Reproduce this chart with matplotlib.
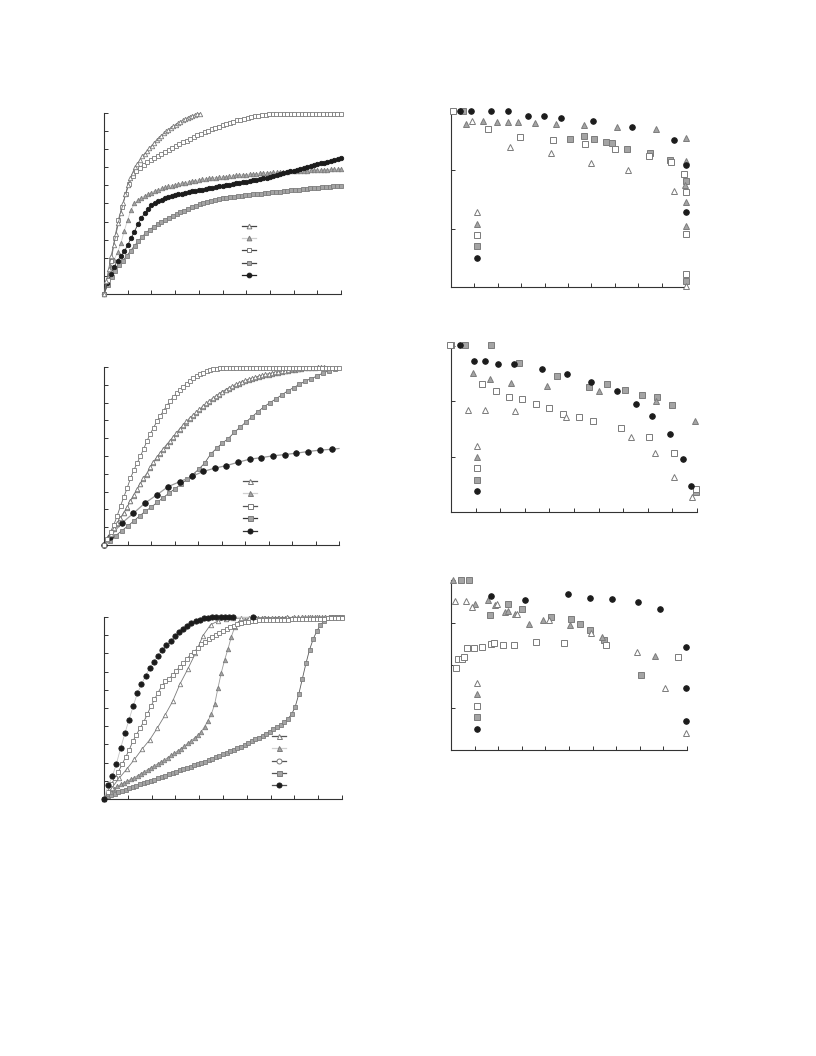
import numpy as np
import matplotlib
matplotlib.use("Agg")
import matplotlib.pyplot as plt
from matplotlib.lines import Line2D

# ---------------------------------------------------------------------------
# Cumulative curves (left column), x and y on 0-100 scales
# ---------------------------------------------------------------------------
# Panel A
a_tri_open_end = 40.3
a_tri_open = [0, 7, 14, 21, 27, 33, 39, 45, 50, 55, 60, 64, 67, 70, 72, 74, 76, 77.5,
              79, 80.5, 82, 83.5, 85, 86.3, 87.5, 88.7, 89.8, 90.8, 91.8, 92.7, 93.6,
              94.4, 95.2, 96, 96.7, 97.4, 98, 98.5, 99, 99.4, 99.7]
a_sq_open = [0, 8, 18, 31, 41, 48, 55, 61, 65, 67.8, 69.8, 71.4, 72.8, 74.1, 75.3, 76.5,
             77.6, 78.7, 79.8, 80.8, 81.8, 82.8, 83.8, 84.8, 85.8, 86.7, 87.6, 88.5,
             89.3, 90.1, 90.9, 91.7, 92.5, 93.3, 94.0, 94.7, 95.3, 95.9, 96.4, 96.9,
             97.4, 97.8, 98.2, 98.5, 98.8, 99.1, 99.3, 99.4, 99.5, 99.5, 99.5, 99.5,
             99.5, 99.5, 99.5, 99.5, 99.5, 99.5, 99.5, 99.5, 99.5, 99.5, 99.5, 99.5,
             99.5, 99.5, 99.5]
a_tri_gray = [0, 8, 15, 19, 23, 28, 35, 41, 46.5, 50, 52, 53.2, 54.2, 55.1, 56, 57,
              57.7, 58.3, 58.9, 59.4, 59.9, 60.4, 60.8, 61.2, 61.6, 62, 62.4, 62.7, 63,
              63.3, 63.6, 63.9, 64.1, 64.3, 64.5, 64.7, 64.9, 65.1, 65.3, 65.5, 65.7,
              65.9, 66, 66.2, 66.4, 66.5, 66.7, 66.8, 67, 67.1, 67.2, 67.3, 67.4, 67.5,
              67.6, 67.7, 67.8, 67.9, 68, 68.1, 68.2, 68.3, 68.4, 68.5, 68.5, 68.6,
              68.7, 68.8, 68.9, 68.9, 69]
a_circ = [0, 6, 11, 15, 18.5, 21, 23.5, 27, 31, 34.5, 38.5, 42, 44.5, 47, 49, 50.3, 51.3,
          52.1, 52.8, 53.4, 54, 54.5, 55, 55.5, 55.9, 56.3, 56.7, 57, 57.4, 57.7, 58.1,
          58.4, 58.8, 59.1, 59.4, 59.7, 60.1, 60.4, 60.7, 61.1, 61.4, 61.8, 62.1, 62.4,
          62.8, 63.1, 63.5, 63.9, 64.3, 64.8, 65.2, 65.7, 66.2, 66.7, 67.2, 67.7, 68.2,
          68.7, 69.2, 69.7, 70.2, 70.7, 71.2, 71.6, 72.1, 72.5, 73, 73.5, 74, 74.5, 75]
a_sq_gray = [0, 5, 9.5, 12.8, 15.8, 18.5, 21.2, 24, 26.7, 29.3, 31.7, 33.8, 35.6, 37.1,
             38.4, 39.6, 40.8, 42, 43.1, 44.1, 45.1, 46.1, 47, 47.9, 48.7, 49.5, 50.1,
             50.7, 51.3, 51.8, 52.3, 52.8, 53.1, 53.4, 53.7, 54, 54.3, 54.6, 54.8, 55,
             55.2, 55.4, 55.6, 55.8, 56.1, 56.3, 56.5, 56.8, 57, 57.3, 57.5, 57.7, 57.9,
             58.1, 58.3, 58.5, 58.7, 58.9, 59.1, 59.3, 59.5, 59.7, 59.9]

# Panel B
b_sq_open = [0, 3.5, 7.5, 11.5, 16.5, 22, 27, 32, 37.5, 42, 46, 50, 54, 58.5, 62.5, 66,
             69.5, 72.5, 75.5, 78.3, 81, 83.3, 85.3, 87.2, 89, 90.7, 92.2, 93.6, 94.8,
             95.8, 96.7, 97.5, 98.2, 98.7, 99.1, 99.4, 99.5, 99.5, 99.5, 99.6, 99.6,
             99.6, 99.6, 99.6, 99.6, 99.6, 99.6, 99.6, 99.6, 99.6, 99.6, 99.6, 99.6,
             99.6, 99.6, 99.6, 99.6, 99.6, 99.6, 99.6, 99.6, 99.6, 99.6, 99.6, 99.6,
             99.6, 99.6, 99.6, 99.6, 99.6, 99.6, 99.6]
b_tri_open_end = 93.8
b_tri_open = [0, 3, 6.2, 9.3, 12.2, 15.2, 18.2, 21.2, 24.8, 28.1, 31.2, 34.5, 37.7, 40.1,
              43.8, 46.6, 49.2, 51.6, 54, 56.3, 58.5, 60.8, 63, 65.2, 67.3, 69.4, 71.2,
              72.9, 74.5, 76.2, 77.9, 79.5, 81, 82.4, 83.7, 85, 86.2, 87.3, 88.3, 89.3,
              90.2, 91, 91.8, 92.5, 93.1, 93.7, 94.3, 94.8, 95.3, 95.8, 96.2, 96.6, 97,
              97.4, 97.7, 98, 98.3, 98.6, 98.8, 99, 99.2, 99.4, 99.5, 99.6, 99.7, 99.8,
              99.9, 100]
b_tri_gray_end = 84.0
b_tri_gray = [0, 2.8, 6, 9, 12, 15, 18, 21, 24.5, 27.8, 31, 34.2, 37.3, 39.6, 43.2, 46,
              48.6, 51, 53.4, 55.7, 57.9, 60.2, 62.4, 64.6, 66.7, 68.8, 70.6, 72.3, 74,
              75.7, 77.4, 79, 80.5, 81.9, 83.2, 84.5, 85.7, 86.8, 87.8, 88.8, 89.7, 90.5,
              91.3, 92, 92.6, 93.2, 93.8, 94.3, 94.8, 95.3, 95.7, 96.1, 96.5, 96.9, 97.3,
              97.6, 97.9, 98.2, 98.5, 98.8, 99]
b_sq_gray_end = 98.28
b_sq_gray = [0, 2.5, 5.3, 8, 10.6, 13.4, 16.3, 19, 21.3, 24, 26.6, 29.2, 31.6, 34.2, 36.9,
             39.6, 42.6, 46, 51, 54.3, 57.3, 59.8, 63.3, 66.2, 69.2, 72, 74.9, 77.6,
             79.9, 82, 84.3, 86.5, 88.4, 90.2, 92.1, 93.5, 94.9, 96.7, 97.9, 98.7]
b_circ_x = [0, 2.5, 7.5, 12.5, 17.4, 22.4, 27.3, 32.3, 37.3, 42.2, 47.2, 52.1, 57.1, 62,
            67, 71.9, 76.9, 81.8, 86.8, 91.8, 97.2, 100]
b_circ = [0, 4.7, 12.2, 17.8, 23.5, 28.1, 32.8, 35.6, 38.5, 41.3, 43.2, 44.6, 46.5, 48.2,
          49.1, 50.1, 50.8, 51.6, 52.5, 53.3, 53.8, 54.2]

# Panel C
c_circ_x = [0, 1.75, 3.5, 5.25, 7.0, 8.75, 10.5, 12.25, 14.0, 15.75, 17.5, 19.25, 21.0,
            22.75, 24.5, 26.25, 28.0, 29.75, 31.5, 33.25, 35.0, 36.75, 38.5, 40.25,
            42.0, 43.75, 45.5, 47.25, 49.0, 50.75, 52.5, 54.25, 62.4]
c_circ = [0, 7.5, 12.5, 19.5, 28, 36, 43.5, 51, 58, 63, 67.8, 72, 75.5, 78.8, 82, 84.5,
          87, 89.5, 91.8, 93.4, 95, 96.5, 97.6, 98.6, 99.3, 99.7, 99.8, 99.8, 99.9,
          99.9, 99.9, 99.9, 99.9]
c_sq_open = [0, 4, 8, 11.5, 15, 19, 23, 27, 31.8, 35.3, 39, 42.3, 46.5, 51, 54.7, 58.5,
             62, 64.6, 66, 68, 70.3, 72.6, 74.5, 77, 79.3, 81, 82.8, 85.1, 86.4, 87.8,
             89.1, 90.3, 91.3, 92.3, 93.4, 94.4, 95.3, 96.1, 96.7, 97.1, 97.5, 97.8,
             98, 98.1, 98.2, 98.3, 98.4, 98.4, 98.5, 98.5, 98.6, 98.6, 98.7, 98.7,
             98.8, 98.8, 98.9, 98.9, 99, 99, 99.1, 99.1, 99.2, 99.2, 99.3, 99.3, 99.4]
c_tri_open_end = 99.2
c_tri_open = [0, 6, 11.5, 16.5, 21.8, 27.4, 32.5, 39, 46, 53.6, 63.4, 71.4, 80, 89.8,
              95.8, 97.8, 98.7, 99.2, 99.4, 99.5, 99.6, 99.6, 99.7, 99.7, 99.8, 99.8,
              99.8, 99.8, 99.9, 99.9, 99.9, 99.9]
c_tri_gray = [0, 2.5, 4, 5.5, 6.9, 8, 9, 9.9, 10.8, 11.7, 12.8, 13.9, 15, 16.1, 17.2,
              18.3, 19.3, 20.4, 21.5, 22.7, 24, 25.2, 26.4, 27.7, 29.2, 30.6, 32, 33.5,
              35, 37, 39.8, 43, 46.5, 52, 61, 69.5, 76.5, 82.5, 89.2, 94.5, 96.8, 97.8,
              98.4, 98.8, 99.1, 99.3, 99.4, 99.5, 99.5, 99.6, 99.6, 99.6, 99.6, 99.7,
              99.7, 99.7, 99.7, 99.7, 99.8, 99.8, 99.8, 99.8, 99.8, 99.8, 99.8, 99.8,
              99.9, 99.9, 99.9, 99.9, 99.9, 99.9]
c_sq_gray = [0, 1.5, 2.3, 3, 3.7, 4.4, 5.2, 5.9, 6.7, 7.3, 8, 8.6, 9.3, 10, 10.7, 11.4,
             12.1, 12.9, 13.6, 14.3, 15, 15.7, 16.4, 17.1, 17.8, 18.5, 19.2, 19.9, 20.6,
             21.3, 22.1, 22.9, 23.7, 24.5, 25.3, 26.1, 27, 27.9, 28.8, 29.7, 30.7, 31.7,
             32.7, 33.7, 34.8, 35.9, 37, 38.2, 39.4, 40.7, 42.2, 44, 46.5, 50.5, 57.5,
             66, 74.5, 82, 87.8, 92.2, 95.5, 97.8, 99.2, 99.8, 100, 100.1, 100]

# ---------------------------------------------------------------------------
# Ratio scatter panels (right column)
# ---------------------------------------------------------------------------
d_tri_open_x = [9.1, 25.2, 42.6, 59.7, 75.8, 95.4, 100.4]
d_tri_open_y = [2.85, 2.40, 2.30, 2.12, 2.00, 1.65, 0.02]
d_tri_gray_x = [6.4, 13.8, 19.5, 24.5, 28.8, 35.9, 44.9, 56.8, 70.8, 87.5, 100.4, 100.4,
                100.0, 100.4, 100.4]
d_tri_gray_y = [2.79, 2.85, 2.82, 2.82, 2.82, 2.81, 2.79, 2.77, 2.74, 2.70, 2.56, 2.16,
                1.75, 1.45, 1.05]
d_sq_open_x = [0.7, 16.0, 29.5, 43.4, 57.3, 70.1, 84.6, 94.0, 99.7, 100.3, 100.3, 100.3]
d_sq_open_y = [3.02, 2.70, 2.57, 2.52, 2.45, 2.36, 2.25, 2.14, 1.94, 1.63, 0.90, 0.23]
d_sq_gray_x = [5.0, 50.9, 56.8, 61.1, 66.1, 68.9, 75.4, 85.0, 93.6, 100.3, 100.3]
d_sq_gray_y = [3.02, 2.53, 2.58, 2.54, 2.48, 2.46, 2.37, 2.29, 2.17, 1.82, 0.11]
d_circ_x = [3.8, 8.4, 17.0, 24.5, 33.0, 39.9, 46.9, 60.8, 77.5, 95.4, 100.3, 100.3]
d_circ_y = [3.02, 3.02, 3.02, 3.02, 2.93, 2.93, 2.90, 2.85, 2.75, 2.52, 2.09, 1.29]

e_sq_open_x = [-0.3, 12.6, 18.2, 23.6, 28.8, 34.5, 40.0, 45.4, 52.0, 57.6, 69.1, 80.5,
               90.5, 99.7]
e_sq_open_y = [3.02, 2.31, 2.19, 2.07, 2.04, 1.96, 1.88, 1.77, 1.72, 1.65, 1.51, 1.35,
               1.07, 0.41]
e_tri_open_x = [6.9, 13.9, 26.2, 46.8, 73.0, 82.8, 90.8, 98.0]
e_tri_open_y = [1.85, 1.85, 1.82, 1.72, 1.35, 1.07, 0.63, 0.27]
e_tri_gray_x = [8.8, 15.7, 24.5, 38.9, 60.3, 83.5, 99.1]
e_tri_gray_y = [2.52, 2.41, 2.34, 2.28, 2.19, 2.00, 1.65]
e_sq_gray_x = [0.0, 5.8, 16.2, 27.7, 43.2, 56.1, 63.6, 70.9, 77.8, 83.8, 90.0, 99.7]
e_sq_gray_y = [3.02, 3.02, 3.02, 2.70, 2.46, 2.26, 2.32, 2.21, 2.12, 2.08, 1.94, 0.36]
e_circ_x = [3.8, 9.2, 13.9, 19.1, 25.7, 36.9, 47.3, 56.8, 67.3, 75.0, 81.8, 88.9, 94.3,
            97.7]
e_circ_y = [3.02, 2.73, 2.72, 2.67, 2.67, 2.58, 2.49, 2.35, 2.18, 1.95, 1.74, 1.41, 0.95,
            0.47]

f_tri_open_x = [1.7, 6.2, 9.0, 19.3, 28.1, 41.6, 59.5, 78.8, 90.5, 99.7]
f_tri_open_y = [3.51, 3.51, 3.36, 3.43, 3.19, 3.07, 2.76, 2.31, 1.47, 0.39]
f_tri_gray_x = [1.0, 10.2, 15.5, 18.6, 22.8, 24.0, 27.1, 33.1, 39.1, 50.4, 63.8, 86.3]
f_tri_gray_y = [4.0, 3.44, 3.53, 3.41, 3.25, 3.28, 3.21, 2.96, 3.07, 2.94, 2.65, 2.21]
f_sq_open_x = [2.0, 2.8, 4.8, 5.5, 6.9, 9.7, 13.0, 16.8, 18.3, 22.1, 26.7, 36.2, 48.0,
               65.6, 96.0]
f_sq_open_y = [1.94, 2.13, 2.13, 2.20, 2.39, 2.41, 2.43, 2.49, 2.51, 2.48, 2.46, 2.53,
               2.51, 2.48, 2.18]
f_sq_gray_x = [4.2, 7.6, 16.5, 24.3, 30.0, 42.3, 50.8, 54.6, 59.1, 64.7, 80.4]
f_sq_gray_y = [4.0, 4.0, 3.18, 3.44, 3.31, 3.14, 3.08, 2.96, 2.82, 2.60, 1.76]
f_circ_x = [16.8, 31.5, 49.4, 58.8, 68.3, 79.3, 88.7, 99.7, 99.7, 99.7]
f_circ_y = [3.63, 3.53, 3.66, 3.58, 3.55, 3.48, 3.31, 2.42, 1.47, 0.69]

# ---------------------------------------------------------------------------
# Styling
# ---------------------------------------------------------------------------
WHITE = "white"
GRAY = "#a4a4a4"
BLACK = "#1c1c1c"
EDGE_OPEN = "#7a7a7a"
EDGE_GRAY = "#7c7c7c"

STYLE = {
    "tri_open": dict(marker="^", mfc=WHITE, mec=EDGE_OPEN, color="#6a6a6a"),
    "tri_gray": dict(marker="^", mfc=GRAY, mec=EDGE_GRAY, color="#cfcfcf"),
    "sq_open": dict(marker="s", mfc=WHITE, mec=EDGE_OPEN, color="#6a6a6a"),
    "sq_gray": dict(marker="s", mfc=GRAY, mec=EDGE_GRAY, color="#5a5a5a"),
    "circ": dict(marker="o", mfc=BLACK, mec=BLACK, color="#3a3a3a"),
    "circ_open": dict(marker="o", mfc=WHITE, mec=EDGE_OPEN, color="#6a6a6a"),
}

W, H = 816, 1056
fig = plt.figure(figsize=(W / 100, H / 100), dpi=100)
fig.patch.set_facecolor("white")


def make_axes(left, right, top, bottom, ymax, nyt):
    ax = fig.add_axes([left / W, 1 - bottom / H, (right - left) / W, (bottom - top) / H])
    ax.set_xlim(0, 100)
    ax.set_ylim(0, ymax)
    ax.set_xticks(np.linspace(0, 100, 11))
    ax.set_yticks(np.linspace(0, ymax, nyt + 1))
    ax.tick_params(direction="in", length=3.2, width=0.7, colors="#333333",
                   labelbottom=False, labelleft=False)
    for side in ("top", "right"):
        ax.spines[side].set_visible(False)
    for side in ("left", "bottom"):
        ax.spines[side].set_color("#333333")
        ax.spines[side].set_linewidth(0.8)
    ax.set_facecolor("none")
    return ax


def curve(ax, x, y, kind, ms=3.2, lw=0.6, line=None, z=2, markevery=None):
    st = dict(STYLE[kind])
    if line is not None:
        st["color"] = line
    ax.plot(x, y, marker=st["marker"], mfc=st["mfc"], mec=st["mec"], color=st["color"],
            ms=ms, mew=0.6, lw=lw, clip_on=False, zorder=z, markevery=markevery)


def dots(ax, x, y, kind, ms=4.0):
    st = STYLE[kind]
    ax.plot(x, y, ls="none", marker=st["marker"], mfc=st["mfc"], mec=st["mec"], ms=ms,
            mew=0.7, clip_on=False, zorder=3)


def key(ax, kinds, center, pitch_pt, with_lines, ms, line_colors=None):
    handles = []
    for i, kind in enumerate(kinds):
        st = STYLE[kind]
        col = line_colors[i] if line_colors else st["color"]
        handles.append(Line2D([], [], marker=st["marker"], mfc=st["mfc"], mec=st["mec"],
                              ms=ms, mew=0.7, color=col, lw=0.9 if with_lines else 0,
                              ls="-" if with_lines else "none"))
    hh = 5.0
    ax.legend(handles, [""] * len(handles), loc="center", bbox_to_anchor=center,
              frameon=False, fontsize=1, handleheight=hh,
              labelspacing=pitch_pt + 1.45 - hh,
              handlelength=10.0 if with_lines else 4.0, handletextpad=0, borderpad=0,
              borderaxespad=0, numpoints=1)


def grid(n, end):
    return np.linspace(0, end, n)


# ---- Panel A ----
ax = make_axes(104, 341, 113, 294, 100, 10)
curve(ax, grid(len(a_sq_gray), 100), a_sq_gray, "sq_gray", z=2)
curve(ax, grid(len(a_circ), 100), a_circ, "circ", z=3)
curve(ax, grid(len(a_tri_gray), 100), a_tri_gray, "tri_gray", z=2)
curve(ax, grid(len(a_sq_open), 100), a_sq_open, "sq_open", z=3)
curve(ax, grid(len(a_tri_open), a_tri_open_end), a_tri_open, "tri_open", z=4)
key(ax, ["tri_open", "tri_gray", "sq_open", "sq_gray", "circ"], (0.61, 0.235), 8.82,
    True, 3.4, ["#444444", "#d0d0d0", "#444444", "#444444", "#222222"])

# ---- Panel B ----
ax = make_axes(104, 339, 367, 545, 100, 10)
curve(ax, grid(len(b_sq_gray), b_sq_gray_end), b_sq_gray, "sq_gray", ms=3.4, z=2)
curve(ax, b_circ_x, b_circ, "circ", ms=4.0, line="#9a9a9a", lw=0.9, z=3,
      markevery=list(range(len(b_circ) - 1)))
curve(ax, grid(len(b_tri_gray), b_tri_gray_end), b_tri_gray, "tri_gray", z=3)
curve(ax, grid(len(b_tri_open), b_tri_open_end), b_tri_open, "tri_open", z=4)
curve(ax, grid(len(b_sq_open), 100), b_sq_open, "sq_open", z=4)
key(ax, ["tri_open", "tri_gray", "sq_open", "sq_gray", "circ"], (0.623, 0.215), 9.0,
    True, 3.6, ["#555555", "#d0d0d0", "#555555", "#333333", "#333333"])

# ---- Panel C ----
ax = make_axes(104, 342, 617, 799, 100, 10)
curve(ax, grid(len(c_sq_gray), 100), c_sq_gray, "sq_gray", z=2)
curve(ax, grid(len(c_tri_gray), 100), c_tri_gray, "tri_gray", line="#9a9a9a", z=3)
curve(ax, grid(len(c_tri_open), c_tri_open_end), c_tri_open, "tri_open", line="#7a7a7a",
      z=3)
curve(ax, grid(len(c_sq_open), 100), c_sq_open, "sq_open", z=4)
curve(ax, c_circ_x, c_circ, "circ", ms=3.8, line="#c4c4c4", z=5)
key(ax, ["tri_open", "tri_gray", "circ_open", "sq_gray", "circ"], (0.735, 0.205), 9.0,
    True, 3.6, ["#555555", "#d0d0d0", "#555555", "#555555", "#555555"])

# ---- Panel D ----
ax = make_axes(451, 685, 112, 287, 3, 3)
dots(ax, d_sq_gray_x, d_sq_gray_y, "sq_gray")
dots(ax, d_sq_open_x, d_sq_open_y, "sq_open")
dots(ax, d_tri_gray_x, d_tri_gray_y, "tri_gray")
dots(ax, d_tri_open_x, d_tri_open_y, "tri_open")
dots(ax, d_circ_x, d_circ_y, "circ")
key(ax, ["tri_open", "tri_gray", "sq_open", "sq_gray", "circ"], (0.111, 0.291), 8.3,
    False, 4.0)

# ---- Panel E ----
ax = make_axes(451, 697, 346, 512, 3, 3)
dots(ax, e_sq_gray_x, e_sq_gray_y, "sq_gray")
dots(ax, e_sq_open_x, e_sq_open_y, "sq_open")
dots(ax, e_tri_gray_x, e_tri_gray_y, "tri_gray")
dots(ax, e_tri_open_x, e_tri_open_y, "tri_open")
dots(ax, e_circ_x, e_circ_y, "circ")
key(ax, ["tri_open", "tri_gray", "sq_open", "sq_gray", "circ"], (0.106, 0.256), 8.1,
    False, 4.0)

# ---- Panel F ----
ax = make_axes(451, 687, 580, 750, 4, 4)
dots(ax, f_sq_gray_x, f_sq_gray_y, "sq_gray")
dots(ax, f_sq_open_x, f_sq_open_y, "sq_open")
dots(ax, f_tri_gray_x, f_tri_gray_y, "tri_gray")
dots(ax, f_tri_open_x, f_tri_open_y, "tri_open")
dots(ax, f_circ_x, f_circ_y, "circ")
key(ax, ["tri_open", "tri_gray", "sq_open", "sq_gray", "circ"], (0.11, 0.253), 8.3,
    False, 4.0)

fig.savefig("out.png", dpi=100, facecolor="white")
